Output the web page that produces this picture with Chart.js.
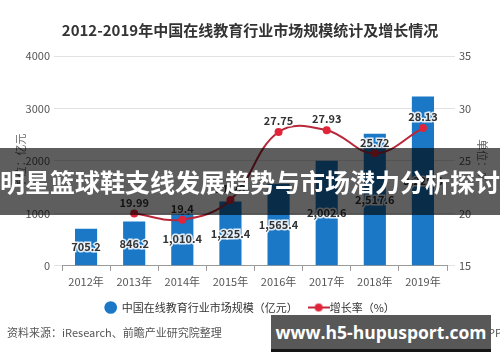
<!DOCTYPE html>
<html>
<head>
<meta charset="utf-8">
<script src="https://cdn.jsdelivr.net/npm/chart.js@4.4.1/dist/chart.umd.min.js"></script>
<style>
  html, body { margin: 0; padding: 0; background: #fff; }
  #wrap { position: relative; width: 500px; height: 362px; overflow: hidden; font-family: "Noto Sans CJK SC", sans-serif; }
  #chart { position: absolute; left: 0; top: 0; }
  .banner { position: absolute; left: 0; top: 148px; width: 500px; height: 67px; background: rgba(0,0,0,0.63);
            color: #fff; font-weight: bold; font-size: 25px; line-height: 67px; text-align: center; white-space: nowrap; }
  .source { position: absolute; left: 7px; top: 324px; font-size: 11px; color: #555; white-space: nowrap; }
  .app { position: absolute; right: -2px; top: 324px; font-size: 11px; color: #555; white-space: nowrap; }
  .mark { position: absolute; left: 271px; top: 315px; width: 220px; height: 34px; background: #585858; border-bottom: 3px solid #151515;
          color: #fff; font-family: "Open Sans", sans-serif; font-weight: bold; font-size: 17.5px; line-height: 34px; text-align: center; white-space: nowrap; }
</style>
</head>
<body>
<div id="wrap">
  <canvas id="chart" width="500" height="362"></canvas>
  <div class="source">资料来源：iResearch、前瞻产业研究院整理</div>
  <div class="app">@前瞻经济学人APP</div>
  <div class="banner">明星篮球鞋支线发展趋势与市场潜力分析探讨</div>
  <div class="mark">www.h5-hupusport.com</div>
</div>
<script>
  // --- data ---
  const years = ['2012年', '2013年', '2014年', '2015年', '2016年', '2017年', '2018年', '2019年'];
  const marketSize = [705.2, 846.2, 1010.4, 1225.4, 1565.4, 2002.6, 2517.6, 3225.8];
  const growthRate = [null, 19.99, 19.4, 21.28, 27.75, 27.93, 25.72, 28.13];
  const leftAxis = [0, 4000, 1000];   // min, max, step
  const rightAxis = [15, 35, 5];

  const FONT = '"Noto Sans CJK SC", "Noto Sans", sans-serif';

  // legend icon for the growth line: short line with a dot
  function lineDotIcon() {
    const c = document.createElement('canvas');
    c.width = 22; c.height = 10;
    const g = c.getContext('2d');
    g.strokeStyle = '#c0283a'; g.lineWidth = 2;
    g.beginPath(); g.moveTo(0, 5); g.lineTo(22, 5); g.stroke();
    g.fillStyle = '#e0253b';
    g.beginPath(); g.arc(11, 5, 4, 0, Math.PI * 2); g.fill();
    return c;
  }

  function fmt(v) {
    return v.toLocaleString('en-US', { minimumFractionDigits: 1, maximumFractionDigits: 2 });
  }

  // simple value labels on bars (centered) and above line points
  const valueLabels = {
    id: 'valueLabels',
    afterDatasetsDraw(chart) {
      const ctx = chart.ctx;
      ctx.save();
      ctx.font = 'bold 11px ' + FONT;
      ctx.textAlign = 'center';
      ctx.textBaseline = 'middle';
      chart.data.datasets.forEach((ds, i) => {
        const meta = chart.getDatasetMeta(i);
        meta.data.forEach((el, j) => {
          const v = ds.data[j];
          if (v == null) return;
          let y, text;
          if (ds.type === 'bar') {
            y = (el.y + el.base) / 2;
            text = fmt(v);
          } else {
            y = el.y - 11;
            text = String(v);
          }
          ctx.lineWidth = 3;
          ctx.strokeStyle = 'rgba(255,255,255,0.85)';
          ctx.strokeText(text, el.x, y);
          ctx.fillStyle = '#333';
          ctx.fillText(text, el.x, y);
        });
      });
      ctx.restore();
    }
  };

  new Chart(document.getElementById('chart'), {
    data: {
      labels: years,
      datasets: [
        {
          type: 'bar',
          label: '中国在线教育行业市场规模（亿元）',
          data: marketSize,
          yAxisID: 'y',
          backgroundColor: '#1a78c6',
          categoryPercentage: 1,
          barPercentage: 0.46,
          order: 1
        },
        {
          type: 'line',
          label: '增长率（%）',
          data: growthRate,
          yAxisID: 'y1',
          borderColor: '#b8283a',
          borderWidth: 2,
          tension: 0.4,
          pointRadius: 4,
          pointBackgroundColor: '#e0253b',
          pointBorderWidth: 0,
          order: 0
        }
      ]
    },
    options: {
      responsive: false,
      animation: false,
      layout: { padding: { left: 0, right: 0, top: 0, bottom: 39 } },
      plugins: {
        title: {
          display: true,
          text: '2012-2019年中国在线教育行业市场规模统计及增长情况',
          color: '#333',
          font: { family: FONT, size: 15, weight: 'bold' },
          padding: { top: 21, bottom: 17 }
        },
        legend: {
          position: 'bottom',
          labels: {
            color: '#333',
            font: { family: FONT, size: 11 },
            usePointStyle: true,
            boxHeight: 9,
            padding: 10,
            sort: (a, b) => a.datasetIndex - b.datasetIndex,
            generateLabels(chart) {
              const items = Chart.defaults.plugins.legend.labels.generateLabels(chart);
              items.forEach(it => {
                if (it.datasetIndex === 0) {
                  it.pointStyle = 'circle';
                  it.fillStyle = '#1a78c6';
                  it.strokeStyle = '#1a78c6';
                  it.text = it.text + '\u3000';
                } else {
                  it.pointStyle = lineDotIcon();
                }
              });
              return items;
            }
          }
        },
        tooltip: { enabled: false }
      },
      scales: {
        x: {
          offset: true,
          grid: { offset: true, drawOnChartArea: false, drawTicks: true, tickLength: 5, color: '#999' },
          border: { color: '#999' },
          ticks: { color: '#555', font: { family: FONT, size: 11 }, padding: 4 }
        },
        y: {
          position: 'left',
          min: leftAxis[0], max: leftAxis[1],
          ticks: { stepSize: leftAxis[2], color: '#555', font: { family: FONT, size: 11 }, padding: 4,
                   callback: v => String(v) },
          grid: { color: '#e2e2e2', tickLength: 8 },
          border: { display: false },
          title: { display: true, text: '单位：亿元', color: '#666', font: { family: FONT, size: 11 }, padding: { top: 14, bottom: 0 } },
          afterFit(scale) { scale.width = 62; }
        },
        y1: {
          position: 'right',
          min: rightAxis[0], max: rightAxis[1],
          ticks: { stepSize: rightAxis[2], color: '#555', font: { family: FONT, size: 11 }, padding: 4,
                   callback: v => String(v) },
          grid: { drawOnChartArea: false, color: '#e2e2e2', tickLength: 8 },
          border: { display: false },
          title: { display: true, text: '单位：%', color: '#666', font: { family: FONT, size: 11 }, padding: { top: 11, bottom: 0 } },
          afterFit(scale) { scale.width = 53; }
        }
      }
    },
    plugins: [valueLabels]
  });
</script>
</body>
</html>
